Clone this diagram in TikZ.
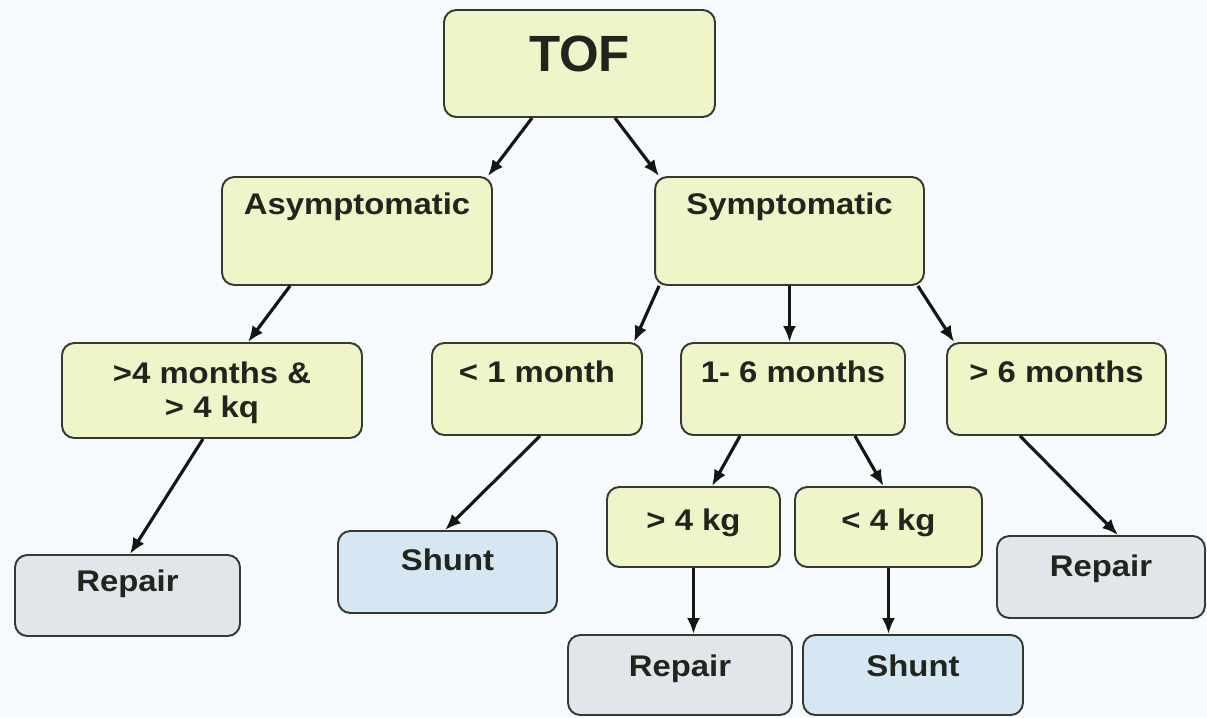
\documentclass[tikz,border=0pt]{standalone}
\usepackage{fontspec}
\setmainfont{Liberation Sans}[FakeStretch=1.1]
\newfontfamily\toffont{Liberation Sans}
\usetikzlibrary{arrows.meta}

\definecolor{bgblue}{RGB}{246,250,253}
\definecolor{boxyellow}{RGB}{240,245,201}
\definecolor{boxgray}{RGB}{226,229,233}
\definecolor{boxblue}{RGB}{213,231,243}
\definecolor{boxline}{RGB}{52,58,48}
\definecolor{textgray}{RGB}{34,36,30}
\definecolor{arrowblack}{RGB}{20,22,20}

\begin{document}
\begin{tikzpicture}[x=0.02cm, y=-0.02cm,
    box/.style={draw=boxline, line width=1.1pt, rounded corners=7pt, fill=boxyellow, inner sep=0pt},
    repairbox/.style={box, fill=boxgray},
    shuntbox/.style={box, fill=boxblue},
    txt/.style={anchor=north, align=center, inner sep=0pt, text=textgray,
        font=\bfseries\fontsize{17}{19.5}\selectfont},
    arr/.style={draw=arrowblack, line width=1.8pt, -{Latex[length=0.32cm, width=0.26cm]}}]

    \useasboundingbox (0, 0) rectangle (1207, 717);
    \clip (0, 0) rectangle (1207, 717);
    \fill [bgblue] (0, 0) rectangle (1207, 717);

    % top of the tree
    \node [box, minimum width=5.42cm, minimum height=2.14cm,
        label={[txt, yshift=-0.54cm, font=\toffont\bfseries\fontsize{29}{32}\selectfont]north:TOF}] (tof) at (579.5, 63.5) {};
    \node [box, minimum width=5.4cm, minimum height=2.16cm,
        label={[txt, yshift=-0.32cm]north:Asymptomatic}] (asym) at (357, 231) {};
    \node [box, minimum width=5.38cm, minimum height=2.16cm,
        label={[txt, yshift=-0.32cm]north:Symptomatic}] (symp) at (789.5, 231) {};

    % age / weight
    \node [box, minimum width=6cm, minimum height=1.9cm,
        label={[txt, yshift=-0.38cm]north:{>4 months \&\\> 4 kq}}] (old) at (212, 390.5) {};
    \node [box, minimum width=4.2cm, minimum height=1.84cm,
        label={[txt, yshift=-0.36cm]north:< 1 month}] (young) at (537, 389) {};
    \node [box, minimum width=4.48cm, minimum height=1.84cm,
        label={[txt, yshift=-0.36cm]north:1- 6 months}] (mid) at (793, 389) {};
    \node [box, minimum width=4.38cm, minimum height=1.84cm,
        label={[txt, yshift=-0.36cm]north:> 6 months}] (late) at (1056.5, 389) {};
    \node [box, minimum width=3.46cm, minimum height=1.6cm,
        label={[txt, yshift=-0.44cm]north:> 4 kg}] (heavy) at (693.5, 527) {};
    \node [box, minimum width=3.74cm, minimum height=1.6cm,
        label={[txt, yshift=-0.44cm]north:< 4 kg}] (light) at (888.5, 527) {};

    % outcomes
    \node [repairbox, minimum width=4.5cm, minimum height=1.62cm,
        label={[txt, yshift=-0.3cm]north:Repair}] (repairA) at (127.5, 595.5) {};
    \node [shuntbox, minimum width=4.38cm, minimum height=1.64cm,
        label={[txt, yshift=-0.36cm]north:Shunt}] (shuntA) at (447.5, 572) {};
    \node [repairbox, minimum width=4.48cm, minimum height=1.6cm,
        label={[txt, yshift=-0.4cm]north:Repair}] (repairB) at (680, 675) {};
    \node [shuntbox, minimum width=4.4cm, minimum height=1.6cm,
        label={[txt, yshift=-0.4cm]north:Shunt}] (shuntB) at (913, 675) {};
    \node [repairbox, minimum width=4.16cm, minimum height=1.64cm,
        label={[txt, yshift=-0.38cm]north:Repair}] (repairC) at (1101, 577) {};

    \draw [arr] ([xshift=-0.95cm]tof.south) -- ([xshift=-0.1cm]asym.north east);
    \draw [arr] ([xshift=0.71cm]tof.south) -- ([xshift=0.1cm]symp.north west);
    \draw [arr] ([xshift=-1.34cm]asym.south) -- ([xshift=0.72cm]old.north);
    \draw [arr] ([xshift=-0.18cm]old.south) -- ([xshift=0.05cm]repairA.north);
    \draw [arr] ([xshift=0.1cm]symp.south west) -- ([xshift=-0.18cm]young.north east);
    \draw [arr] (symp.south) -- (symp.south |- mid.north);
    \draw [arr] ([xshift=-0.14cm]symp.south east) -- ([xshift=0.16cm]late.north west);
    \draw [arr] ([xshift=0.06cm]young.south) -- ([xshift=-0.05cm]shuntA.north);
    \draw [arr] ([xshift=-1.06cm]mid.south) -- ([xshift=0.37cm]heavy.north);
    \draw [arr] ([xshift=1.24cm]mid.south) -- ([xshift=-0.1cm]light.north);
    \draw [arr] (heavy.south) -- (heavy.south |- repairB.north);
    \draw [arr] (light.south) -- (light.south |- shuntB.north);
    \draw [arr] ([xshift=-0.73cm]late.south) -- ([xshift=0.34cm]repairC.north);
\end{tikzpicture}
\end{document}
